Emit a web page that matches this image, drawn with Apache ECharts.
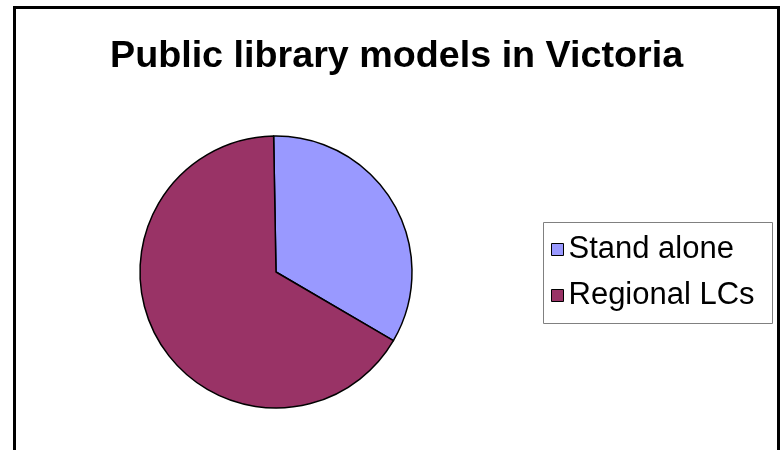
<!DOCTYPE html>
<html>
<head>
<meta charset="utf-8">
<script src="https://cdn.jsdelivr.net/npm/echarts@6/dist/echarts.min.js"></script>
<style>
html,body{margin:0;padding:0;background:#fff;}
#chart{width:783px;height:450px;}
</style>
</head>
<body>
<div id="chart"></div>
<script>
var titleText = 'Public library models in Victoria';
var categories = ['Stand alone', 'Regional LCs'];
var values = [33.7, 66.3];
var colors = ['#9999FF', '#993366'];

var chart = echarts.init(document.getElementById('chart'), null, {renderer: 'canvas'});
var option = {
  animation: false,
  backgroundColor: '#ffffff',
  title: {
    text: titleText,
    left: 110,
    top: 38,
    padding: 0,
    textStyle: {fontFamily: 'Liberation Sans', fontWeight: 'bold', fontSize: 37.7, color: '#000'}
  },
  graphic: [
    {type: 'rect', shape: {x: 14.5, y: 7.5, width: 764, height: 470}, style: {fill: 'none', stroke: '#000', lineWidth: 3}, silent: true, z: 0},
    {type: 'rect', shape: {x: 543.5, y: 222.5, width: 229, height: 101}, style: {fill: '#fff', stroke: '#808080', lineWidth: 1}, silent: true, z: 1}
  ],
  legend: {
    orient: 'vertical',
    left: 551,
    top: 234,
    padding: 0,
    itemGap: 15,
    itemWidth: 12,
    itemHeight: 12,
    icon: 'rect',
    z: 5,
    itemStyle: {borderColor: '#000', borderWidth: 1},
    textStyle: {fontFamily: 'Liberation Sans', fontSize: 31, color: '#000', padding: [0, 0, 0, 0], lineHeight: 31},
    data: categories
  },
  series: [{
    type: 'pie',
    center: [276, 272],
    radius: 136,
    startAngle: 91,
    clockwise: true,
    label: {show: false},
    labelLine: {show: false},
    itemStyle: {borderColor: '#000', borderWidth: 1.5},
    emphasis: {disabled: true},
    data: categories.map(function (c, i) {
      return {name: c, value: values[i], itemStyle: {color: colors[i]}};
    })
  }]
};
chart.setOption(option);
</script>
</body>
</html>
